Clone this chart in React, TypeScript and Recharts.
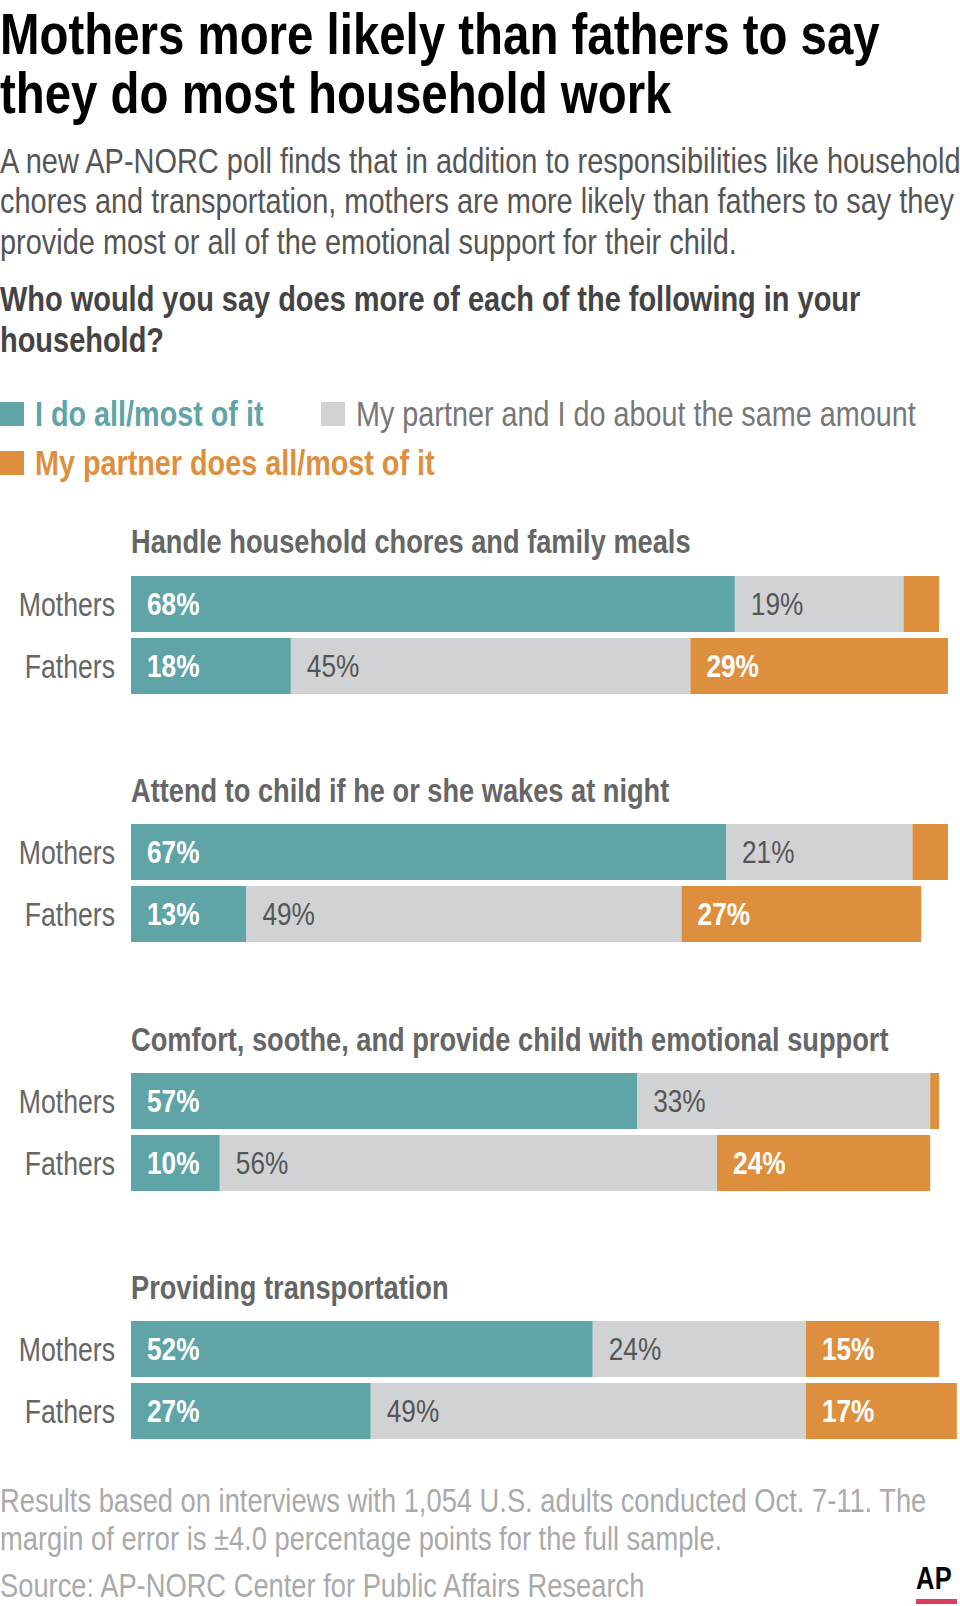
import { BarChart, Bar, XAxis, YAxis, LabelList } from "recharts";

// survey answers, percent of respondents
const groups = ["Mothers", "Fathers"];
const panelTitles = [
  "Handle household chores and family meals",
  "Attend to child if he or she wakes at night",
  "Comfort, soothe, and provide child with emotional support",
  "Providing transportation",
];
const selfShares = [
  [68, 18],
  [67, 13],
  [57, 10],
  [52, 27],
];
const sameShares = [
  [19, 45],
  [21, 49],
  [33, 56],
  [24, 49],
];
const partnerShares = [
  [4, 29],
  [4, 27],
  [1, 24],
  [15, 17],
];
const seriesNames = [
  "I do all/most of it",
  "My partner and I do about the same amount",
  "My partner does all/most of it",
];

// no narrow face installed, so squeeze Liberation Sans (Arial metrics) to Arial Narrow width
const FONT = "'Liberation Sans', Arial, sans-serif";
const NARROW = 0.82;
const TEAL = "#5fa4a6";
const GREY = "#d1d2d4";
const ORANGE = "#de8f3e";

// top of a text block so that its first baseline lands on `baseline`
const topFor = (baseline: number, fs: number, lh: number) => baseline - lh / 2 - 0.3465 * fs;

function Narrow({ baseline, x = 0, fs, lh, style, children }: any) {
  return (
    <div
      style={{
        position: "absolute",
        left: x,
        top: topFor(baseline, fs, lh),
        fontSize: fs,
        lineHeight: `${lh}px`,
        whiteSpace: "nowrap",
        transform: `scaleX(${NARROW})`,
        transformOrigin: "0 0",
        ...style,
      }}
    >
      {children}
    </div>
  );
}

function CategoryTick(props: any) {
  const { x, y, payload } = props;
  return (
    <text
      transform={`translate(${x},${y + 0.358 * 32.5}) scale(${NARROW},1)`}
      textAnchor="end"
      fill="#666"
      fontSize={32.5}
      fontFamily={FONT}
    >
      {payload.value}
    </text>
  );
}

const valueLabel = (color: string, bold: boolean) => (props: any) => {
  const { x, y, height, value } = props;
  if (Number(value) < 5) return null;
  return (
    <text
      transform={`translate(${Number(x) + 16},${Number(y) + Number(height) / 2 + 0.358 * 32}) scale(${NARROW},1)`}
      fill={color}
      fontSize={32}
      fontWeight={bold ? "bold" : "normal"}
      fontFamily={FONT}
    >
      {`${value}%`}
    </text>
  );
};

function Panel({ idx }: { idx: number }) {
  const data = groups.map((g, i) => ({
    group: g,
    self: selfShares[idx][i],
    same: sameShares[idx][i],
    partner: partnerShares[idx][i],
  }));
  const top = 575.5 + idx * 248.6;
  return (
    <>
      <Narrow baseline={top - 22} x={131} fs={33.2} lh={33} style={{ fontWeight: "bold", color: "#666" }}>
        {panelTitles[idx]}
      </Narrow>
      <div style={{ position: "absolute", left: 0, top: top - 3 }}>
        <BarChart
          width={1019}
          height={124}
          data={data}
          layout="vertical"
          margin={{ top: 0, right: 0, bottom: 0, left: 0 }}
          barSize={56}
        >
          <XAxis type="number" domain={[0, 100]} hide />
          <YAxis
            type="category"
            dataKey="group"
            width={131}
            axisLine={false}
            tickLine={false}
            tickSize={0}
            tickMargin={16}
            tick={<CategoryTick />}
          />
          <Bar dataKey="self" stackId="s" fill={TEAL} isAnimationActive={false}>
            <LabelList dataKey="self" content={valueLabel("#fff", true)} />
          </Bar>
          <Bar dataKey="same" stackId="s" fill={GREY} isAnimationActive={false}>
            <LabelList dataKey="same" content={valueLabel("#555", false)} />
          </Bar>
          <Bar dataKey="partner" stackId="s" fill={ORANGE} isAnimationActive={false}>
            <LabelList dataKey="partner" content={valueLabel("#fff", true)} />
          </Bar>
        </BarChart>
      </div>
    </>
  );
}

function LegendItem({ box, text, label, bold, x, baseline }: any) {
  return (
    <>
      <div style={{ position: "absolute", left: x, top: baseline - 24.5, width: 24, height: 24.5, background: box }} />
      <Narrow
        baseline={baseline}
        x={x + 35}
        fs={35.1}
        lh={35}
        style={{ color: text, fontWeight: bold ? "bold" : "normal" }}
      >
        {label}
      </Narrow>
    </>
  );
}

export default function App() {
  return (
    <div
      style={{
        position: "absolute",
        left: 0,
        top: 0,
        width: 960,
        height: 1606,
        overflow: "hidden",
        background: "#fff",
        fontFamily: FONT,
      }}
    >
      <Narrow baseline={54.5} fs={57.8} lh={58.5} style={{ fontWeight: "bold", color: "#000" }}>
        Mothers more likely than fathers to say
        <br />
        they do most household work
      </Narrow>
      <Narrow baseline={173} fs={35.3} lh={40.5} style={{ color: "#555" }}>
        A new AP-NORC poll finds that in addition to responsibilities like household
        <br />
        chores and transportation, mothers are more likely than fathers to say they
        <br />
        provide most or all of the emotional support for their child.
      </Narrow>
      <Narrow baseline={311} fs={35.3} lh={41} style={{ fontWeight: "bold", color: "#444" }}>
        Who would you say does more of each of the following in your
        <br />
        household?
      </Narrow>

      <LegendItem box={TEAL} text={TEAL} label={seriesNames[0]} bold x={0} baseline={426} />
      <LegendItem box={GREY} text="#777" label={seriesNames[1]} x={321} baseline={426} />
      <LegendItem box={ORANGE} text={ORANGE} label={seriesNames[2]} bold x={0} baseline={475} />

      {panelTitles.map((_, i) => (
        <Panel key={i} idx={i} />
      ))}

      <Narrow baseline={1513} fs={33.3} lh={38} style={{ color: "#aaa" }}>
        Results based on interviews with 1,054 U.S. adults conducted Oct. 7-11. The
        <br />
        margin of error is ±4.0 percentage points for the full sample.
      </Narrow>
      <Narrow baseline={1597.5} fs={33.3} lh={38} style={{ color: "#aaa" }}>
        Source: AP-NORC Center for Public Affairs Research
      </Narrow>
      <Narrow baseline={1589} x={916} fs={31} lh={31} style={{ fontWeight: "bold", color: "#000", letterSpacing: 0.5 }}>
        AP
      </Narrow>
      <div style={{ position: "absolute", left: 916, top: 1599, width: 41, height: 4.5, background: "#d8405a" }} />
    </div>
  );
}
